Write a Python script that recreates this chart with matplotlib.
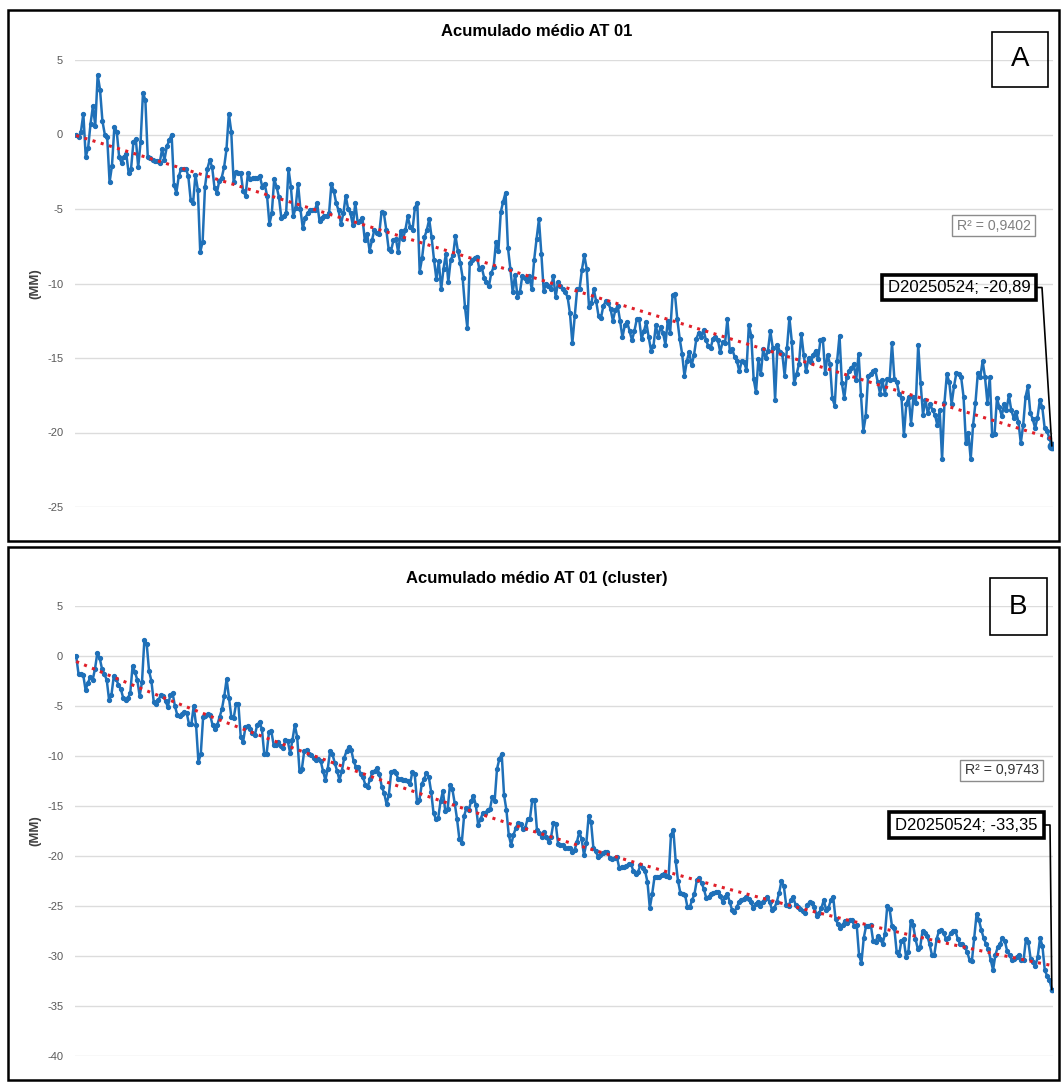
import matplotlib
matplotlib.use('Agg')
import matplotlib.pyplot as plt
from matplotlib.patches import Rectangle
from matplotlib.lines import Line2D
import numpy as np

plt.rcParams['font.family'] = ['Liberation Sans', 'DejaVu Sans']
plt.rcParams['axes.unicode_minus'] = False

# accumulated displacement (mm), panel A
acum_a = [
    0.0, -0.2, 0.2, 1.4, -1.5, -0.9, 0.7, 1.9, 0.6, 4.0, 3.0, 0.9, 0.0, -0.2, -3.2, -2.1, 0.5, 0.2, -1.5, -1.9,
    -1.5, -1.3, -2.6, -2.3, -0.5, -0.3, -2.2, -0.5, 2.8, 2.3, -1.5, -1.6, -1.7, -1.8, -1.8, -1.9, -1.0, -1.7, -0.8, -0.4,
    0.0, -3.4, -3.9, -2.8, -2.3, -2.3, -2.3, -2.8, -4.4, -4.6, -2.7, -3.7, -7.9, -7.2, -3.5, -2.3, -1.7, -2.2, -3.6, -3.9,
    -3.1, -2.9, -2.2, -1.0, 1.4, 0.2, -3.2, -2.5, -2.6, -2.6, -3.8, -4.1, -2.6, -3.0, -2.9, -2.9, -2.9, -2.8, -3.5, -3.3,
    -4.1, -6.0, -5.3, -3.0, -3.5, -4.2, -5.6, -5.5, -5.3, -2.3, -3.5, -5.5, -4.9, -3.3, -5.0, -6.3, -5.6, -5.3, -5.1, -5.1,
    -5.1, -4.6, -5.8, -5.6, -5.5, -5.5, -5.3, -3.3, -3.8, -4.6, -5.1, -6.0, -5.3, -4.1, -5.0, -5.3, -6.1, -4.6, -5.9, -5.8,
    -5.6, -7.1, -6.7, -7.8, -7.1, -6.4, -6.6, -6.7, -5.2, -5.3, -6.4, -7.7, -7.8, -7.1, -7.0,
    -7.9, -6.5, -7.0, -6.4, -5.5, -6.2, -6.4, -4.9, -4.6, -9.2, -8.3, -6.9, -6.4, -5.7, -6.9, -8.4, -9.7, -8.5, -10.4, -9.0,
    -8.0, -9.9, -8.4, -8.1, -6.8, -7.8, -8.6, -9.6, -11.6, -13.0, -8.6, -8.4, -8.3, -8.2, -9.0, -8.9, -9.6, -9.9, -10.2, -9.3,
    -8.9, -7.2, -7.8, -5.2, -4.5, -3.9, -7.6, -9.0, -10.6, -9.4, -10.9, -10.6, -9.5, -9.6, -9.8, -9.5, -10.4, -8.4, -7.0, -5.7,
    -8.0, -10.5, -10.0, -10.2, -10.4, -9.5, -10.9, -9.9, -10.2, -10.4, -10.6, -10.9, -12.0, -14.0, -12.2, -10.4, -10.4, -9.1, -8.1,
    -9.0, -11.6, -11.3, -10.4, -11.2, -12.2, -12.3, -11.5, -11.2, -11.3, -11.7, -12.5, -11.8, -11.5, -12.5, -13.6, -12.8, -12.6, -13.2,
    -13.8, -13.2, -12.4, -12.4, -13.7, -13.2, -12.6, -13.6, -14.5, -14.2, -12.8, -13.6, -12.9, -13.3, -14.1, -12.5, -13.3, -10.8, -10.7,
    -12.4, -13.7, -14.7, -16.2, -15.2, -14.6, -15.5, -14.8, -13.7, -13.3, -13.6, -13.1, -13.8, -14.2, -14.3, -13.7, -13.6, -13.8,
    -14.6, -13.9, -14.0, -12.4, -14.5, -14.4, -14.9, -15.2, -15.9, -15.2, -15.3, -15.8, -12.8, -13.5, -16.4, -17.3, -15.1, -16.1, -14.4, -15.0,
    -14.5, -13.2, -14.3, -17.8, -14.1, -14.6, -14.7, -16.2, -14.3, -12.3, -13.9, -16.7, -16.1, -15.4, -13.4, -14.8, -15.9, -15.0, -15.3, -14.8,
    -14.5, -15.1, -13.8, -13.7, -16.0, -14.8, -15.4, -17.7, -18.2, -15.2, -13.5, -16.7, -17.7, -16.3, -15.9, -15.7, -15.4, -16.5, -14.7,
    -17.5, -19.9, -18.9, -16.2, -16.1, -15.9, -15.8, -16.6, -17.4, -16.5, -17.4, -16.4, -16.5, -14.0, -16.4, -16.6, -17.4, -17.7, -20.2, -18.1,
    -17.6, -19.4, -17.6, -18.0, -14.1, -16.7, -18.8, -17.8, -18.7, -18.1, -18.5, -18.8, -19.5, -18.5, -21.8, -18.0, -16.1, -16.6, -18.1,
    -16.9, -16.0, -16.1, -16.3, -17.6, -20.7, -20.0, -21.8, -19.5, -18.0, -16.0, -16.3, -15.2, -16.3, -18.0, -16.3, -20.2, -20.1, -17.7,
    -18.3, -18.9, -18.1, -18.5, -17.5, -18.5, -19.0, -18.6, -19.3, -20.7, -19.5, -17.6, -16.9, -18.7, -19.1, -19.7, -19.0, -17.8, -18.3, -19.7,
    -19.9, -20.4, -20.89,
]

# accumulated displacement (mm), panel B (cluster)
acum_b = [
    0.0, -1.8, -1.8, -1.9, -3.4, -2.7, -2.1, -2.4, -1.3, 0.3, -0.2, -1.3, -1.8, -2.4, -4.4, -3.9, -2.0, -2.3, -2.9, -3.3,
    -4.2, -4.4, -4.2, -3.7, -1.0, -1.6, -2.4, -4.0, -2.6, 1.6, 1.2, -1.5, -2.5, -4.6, -4.8, -4.4, -3.9, -4.0, -4.5, -5.1,
    -3.9, -3.7, -5.0, -5.9, -6.0, -5.8, -5.6, -5.7, -6.8, -6.8, -5.0, -6.9, -10.6, -9.8, -6.1, -6.0, -5.8, -5.9, -6.9, -7.3,
    -6.9, -6.1, -5.3, -4.0, -2.3, -4.2, -6.1, -6.2, -4.8, -4.8, -8.1, -8.6, -7.1, -7.0, -7.3, -7.7, -7.9, -6.9, -6.6, -7.3,
    -9.8, -9.8, -7.6, -7.5, -8.9, -8.9, -8.6, -9.0, -9.2, -8.4, -8.5, -9.7, -8.4, -6.9, -8.1, -11.5, -11.3, -9.5, -9.4, -9.8,
    -9.9, -10.2, -10.4, -10.3, -10.5, -11.5, -12.4, -11.3, -9.5, -9.8, -10.7, -11.5, -12.4, -11.5, -10.2, -9.5, -9.1, -9.4, -10.5, -11.1,
    -11.1, -11.8, -12.1, -12.9, -13.1, -12.3, -11.6, -11.5, -11.2, -11.8, -13.1, -13.7, -14.8, -13.9, -11.6, -11.5,
    -11.7, -12.3, -12.3, -12.4, -12.4, -12.5, -12.8, -11.6, -11.8, -14.6, -14.4, -12.8, -12.3, -11.7, -12.1, -13.6, -15.7, -16.3, -16.2, -14.5,
    -13.5, -15.5, -15.3, -12.9, -13.3, -14.7, -16.3, -18.3, -18.7, -16.0, -15.2, -15.4, -14.5, -14.0, -14.9, -16.9, -16.3, -15.7, -15.7, -15.4,
    -15.3, -14.1, -14.5, -11.3, -10.3, -9.8, -13.9, -15.4, -17.9, -18.9, -17.9, -17.2, -16.7, -16.8, -17.3, -17.2, -16.3, -16.3, -14.4, -14.4,
    -17.4, -17.7, -18.1, -17.6, -18.1, -18.6, -18.1, -16.7, -16.8, -18.8, -18.9, -18.9, -19.2, -19.2, -19.2, -19.6, -19.4, -18.6, -17.6, -18.3,
    -19.9, -18.7, -16.0, -16.6, -19.2, -19.5, -20.1, -19.9, -19.7, -19.6, -19.6, -20.2, -20.3, -20.2, -20.1, -21.2, -21.1, -21.1, -21.0, -20.8,
    -20.8, -21.5, -21.8, -21.6, -20.9, -21.2, -21.5, -22.6, -25.2, -23.8, -22.1, -22.1, -22.1, -21.9, -21.8, -22.0, -22.1, -17.9, -17.4, -20.5,
    -22.5, -23.7, -23.8, -23.9, -25.1, -25.1, -24.4, -23.8, -22.4, -22.2, -22.7, -23.3, -24.2, -24.1, -23.8, -23.7, -23.6,
    -23.6, -24.0, -24.6, -24.1, -23.8, -24.6, -25.4, -25.6, -25.1, -24.6, -24.4, -24.3, -24.1, -24.3, -24.6, -25.2, -24.8, -24.6, -25.0, -24.6,
    -24.3, -24.1, -24.6, -25.4, -25.2, -24.6, -23.7, -22.5, -23.0, -24.9, -25.0, -24.4, -24.1, -24.9, -25.1, -25.3, -25.5, -25.7, -24.9, -24.6,
    -24.7, -25.1, -26.0, -25.7, -25.2, -24.4, -25.4, -25.2, -24.4, -24.1, -26.3, -26.8, -27.2, -26.9, -26.5, -26.7, -26.4, -26.4, -27.0, -26.9,
    -29.9, -30.7, -28.2, -27.0, -27.0, -26.9, -28.5, -28.6, -28.0, -28.3, -28.8, -27.8, -25.0, -25.3, -27.0, -27.2, -29.6, -29.9, -28.5, -28.3,
    -30.1, -29.6, -26.5, -26.9, -28.3, -29.3, -29.1, -27.5, -27.7, -28.0, -28.8, -29.9, -29.9, -28.3, -27.5, -27.4, -27.7, -28.3, -28.2, -27.7,
    -27.5, -27.5, -28.3, -28.8, -28.8, -29.1, -29.6, -30.4, -30.5, -28.2, -25.8, -26.4, -27.4, -28.2, -28.8, -29.3, -30.4, -31.4, -29.9, -29.1,
    -28.8, -28.2, -28.5, -29.5, -29.9, -30.4, -30.3, -30.1, -29.9, -30.4, -30.4, -28.3, -28.6, -30.3, -30.6, -31.0, -30.1, -28.2, -29.0, -31.4,
    -32.0, -32.4, -33.35,
]

yticks_a = [5, 0, -5, -10, -15, -20, -25]
yticks_b = [5, 0, -5, -10, -15, -20, -25, -30, -35, -40]

title_a = "Acumulado médio AT 01"
title_b = "Acumulado médio AT 01 (cluster)"
r2_a = "R² = 0,9402"
r2_b = "R² = 0,9743"
label_a = "D20250524; -20,89"
label_b = "D20250524; -33,35"

W, H = 1061, 1082
fig = plt.figure(figsize=(W / 100, H / 100), dpi=100)


def box(x0, y0, x1, y1):
    # pixel box (top-left origin) -> figure fraction rectangle
    return (x0 / W, 1 - y1 / H, (x1 - x0) / W, (y1 - y0) / H)


def add_rect(x0, y0, x1, y1, lw, ec):
    l, b, w, h = box(x0, y0, x1, y1)
    fig.patches.append(Rectangle((l, b), w, h, transform=fig.transFigure,
                                 fill=False, lw=lw, ec=ec, fc='none'))
    return l + w / 2, b + h / 2


def draw_panel(values, trend_deg, frame, plot_px, yticks, title, title_y, letter, letter_px,
               r2, r2_px, r2_color, label, label_px, end_ms):
    # panel frame
    add_rect(*frame, lw=1.8, ec='black')

    l, b, w, h = box(*plot_px)
    ax = fig.add_axes([l, b, w, h])
    x = np.arange(len(values))
    vals = np.array(values)

    ax.plot(x, vals, color='#1f70b8', lw=1.8, marker='o', ms=2.8, zorder=3)
    ax.plot(x[-1], vals[-1], 'o', color='#1f70b8', ms=end_ms, zorder=4)
    coef = np.polyfit(x, vals, trend_deg)
    ax.plot(x, np.polyval(coef, x), color='#e0202a', lw=2.2,
            ls=(0, (1, 1.8)), zorder=5)

    ax.set_xlim(-0.5, len(values) - 0.5)
    ax.set_ylim(min(yticks), max(yticks))
    ax.set_yticks(yticks)
    ax.set_xticks([])
    ax.grid(axis='y', color='#dcdcdc', lw=1)
    ax.set_axisbelow(True)
    for s in ax.spines.values():
        s.set_visible(False)
    ax.tick_params(axis='y', length=0, labelsize=8, labelcolor='#595959', pad=8.5)

    fig.text(35 / W, b + h / 2, "(MM)", rotation=90, ha='center', va='center',
             fontsize=9.5, fontweight='bold', color='#404040')
    fig.text(537 / W, 1 - title_y / H, title, ha='center', va='center',
             fontsize=12, fontweight='bold', color='black')

    cx, cy = add_rect(*letter_px, lw=1.2, ec='black')
    fig.text(cx, cy, letter, ha='center', va='center', fontsize=20, color='black')

    cx, cy = add_rect(*r2_px, lw=1.0, ec='#8c8c8c')
    fig.text(cx, cy, r2, ha='center', va='center', fontsize=10.2, color=r2_color)

    cx, cy = add_rect(*label_px, lw=2.6, ec='black')
    fig.text(cx, cy, label, ha='center', va='center', fontsize=12, color='black')

    # leader line from label to the last point
    pt = fig.transFigure.inverted().transform(ax.transData.transform((x[-1], vals[-1])))
    right = label_px[2] / W
    fig.lines.append(Line2D([right, right + 6 / W, pt[0]], [cy, cy, pt[1]],
                            transform=fig.transFigure, color='black', lw=1.2))


draw_panel(acum_a, 1, (8, 10, 1059, 541), (75, 60, 1053, 507), yticks_a,
           title_a, 32, "A", (992, 32, 1048, 87),
           r2_a, (952, 215, 1035, 236), '#7f7f7f',
           label_a, (882, 275, 1036, 300), 6)

draw_panel(acum_b, 2, (8, 547, 1059, 1080), (75, 606, 1053, 1056), yticks_b,
           title_b, 579, "B", (990, 578, 1047, 635),
           r2_b, (960, 760, 1043, 781), '#333333',
           label_b, (889, 812, 1044, 838), 3)

fig.savefig("out.png", dpi=100)
